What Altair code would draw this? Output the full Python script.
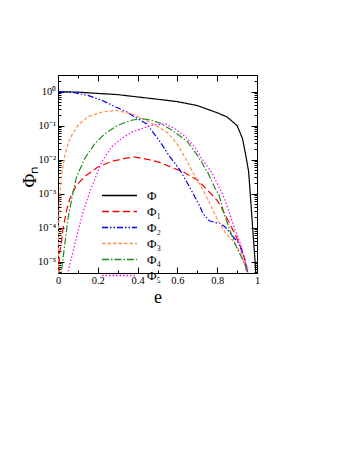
import altair as alt
import pandas as pd

series_names = ["Φ", "Φ₁", "Φ₂", "Φ₃", "Φ₄", "Φ₅"]
colors = ["#000000", "#ff0000", "#0000ff", "#ff9150", "#1e8c1e", "#ff00ff"]
dashes = [[1, 0], [7, 3.5], [6, 2, 1.5, 2, 1.5, 2], [3.5, 2], [7, 2, 1.5, 2], [1.5, 2]]

# Phi (total) — values read directly
e_phi = [0, 0.1, 0.2, 0.3, 0.4, 0.5, 0.6, 0.7, 0.8, 0.85, 0.9, 0.927, 0.944, 0.958, 0.97, 0.98, 0.99, 0.995]
v_phi = [1.0, 0.97, 0.89, 0.82, 0.70, 0.6, 0.51, 0.39, 0.24, 0.18, 0.10, 0.042, 0.013, 0.0044, 4.7e-4, 7e-5, 1.1e-5, 3.5e-6]

# Phi_1..Phi_5 — log10 of the values
e_phi1 = [0.003, 0.008, 0.017, 0.025, 0.042, 0.059, 0.093, 0.134, 0.2, 0.27, 0.35, 0.38, 0.41, 0.45, 0.51, 0.58, 0.63, 0.70, 0.75, 0.80, 0.82, 0.86, 0.89, 0.92, 0.94, 0.96]
lg_phi1 = [-5.7, -4.75, -4.45, -4.05, -3.52, -3.15, -2.75, -2.5, -2.22, -2.05, -1.95, -1.92, -1.95, -1.99, -2.08, -2.25, -2.36, -2.6, -2.89, -3.2, -3.4, -3.85, -4.2, -4.6, -4.95, -5.5]

e_phi2 = [0, 0.084, 0.15, 0.22, 0.29, 0.34, 0.38, 0.446, 0.51, 0.56, 0.61, 0.655, 0.69, 0.71, 0.73, 0.76, 0.79, 0.815, 0.84, 0.88, 0.91, 0.925, 0.94, 0.95, 0.96]
lg_phi2 = [0, -0.03, -0.11, -0.25, -0.45, -0.58, -0.72, -0.95, -1.45, -1.9, -2.28, -2.74, -3.12, -3.34, -3.6, -3.8, -3.85, -3.88, -3.98, -4.27, -4.47, -4.72, -5.01, -5.2, -5.5]

e_phi3 = [0.001, 0.003, 0.006, 0.01, 0.017, 0.034, 0.059, 0.10, 0.15, 0.22, 0.29, 0.37, 0.41, 0.48, 0.55, 0.60, 0.64, 0.68, 0.72, 0.76, 0.80, 0.84, 0.88, 0.92, 0.95, 0.96]
lg_phi3 = [-5.5, -4.1, -3.4, -3.0, -2.5, -1.87, -1.38, -0.99, -0.74, -0.6, -0.55, -0.65, -0.75, -0.96, -1.2, -1.55, -1.95, -2.4, -2.8, -3.25, -3.75, -4.15, -4.4, -4.75, -5.3, -5.6]

e_phi4 = [0.012, 0.017, 0.034, 0.05, 0.076, 0.093, 0.134, 0.185, 0.235, 0.30, 0.37, 0.42, 0.47, 0.51, 0.58, 0.65, 0.706, 0.756, 0.79, 0.81, 0.832, 0.865, 0.891, 0.916, 0.941, 0.955]
lg_phi4 = [-5.6, -5.3, -4.5, -3.74, -2.95, -2.51, -1.97, -1.53, -1.24, -0.99, -0.84, -0.79, -0.84, -0.92, -1.16, -1.47, -1.92, -2.42, -2.85, -3.05, -3.55, -4.1, -4.5, -4.8, -5.1, -5.5]

e_phi5 = [0.045, 0.05, 0.076, 0.10, 0.126, 0.16, 0.193, 0.219, 0.269, 0.319, 0.37, 0.42, 0.47, 0.51, 0.54, 0.59, 0.64, 0.69, 0.72, 0.77, 0.80, 0.824, 0.84, 0.865, 0.891, 0.916, 0.932, 0.95, 0.96]
lg_phi5 = [-5.8, -5.3, -4.7, -4.12, -3.54, -2.95, -2.45, -2.07, -1.63, -1.38, -1.19, -1.09, -0.99, -0.96, -0.95, -1.1, -1.33, -1.65, -1.95, -2.35, -2.7, -2.99, -3.2, -3.64, -4.08, -4.47, -4.81, -5.2, -5.6]

x_ticks = [0, 0.1, 0.2, 0.3, 0.4, 0.5, 0.6, 0.7, 0.8, 0.9, 1.0]
y_ticks = [m * 10.0 ** k for k in range(-6, 1) for m in range(1, 10) if 4.6e-6 <= m * 10.0 ** k <= 3.1]

rows = []
for e, v in zip(e_phi, v_phi):
    rows.append({"series": series_names[0], "e": e, "value": v})
for name, es, lgs in [(series_names[1], e_phi1, lg_phi1), (series_names[2], e_phi2, lg_phi2),
                      (series_names[3], e_phi3, lg_phi3), (series_names[4], e_phi4, lg_phi4),
                      (series_names[5], e_phi5, lg_phi5)]:
    for e, lg in zip(es, lgs):
        rows.append({"series": name, "e": e, "value": 10.0 ** lg})
df = pd.DataFrame(rows)

FONT = "Liberation Serif"
y_dec = "abs(log(datum.value)/LN10 - round(log(datum.value)/LN10)) < 0.01"
x_maj = "abs(datum.value*5 - round(datum.value*5)) < 0.01"
y_tick_expr = y_dec + " ? -6 : -3"
x_tick_expr = x_maj + " ? -6 : -3"
y_label_expr = (y_dec + " ? '10' + ['⁰','⁻¹','⁻²','⁻³','⁻⁴','⁻⁵','⁻⁶'][-round(log(datum.value)/LN10)] : ''")
x_label_expr = x_maj + " ? '' + datum.value : ''"

xscale = alt.Scale(domain=[0, 1], nice=False, zero=False)
yscale = alt.Scale(type="log", domain=[4.6e-6, 3.1], nice=False)

legend = alt.Legend(
    title=None, orient="none", legendX=55, legendY=114,
    symbolType="M-3.5,0H3.5", symbolSize=100, symbolStrokeWidth=1.3,
    labelFont=FONT, labelFontSize=13, labelOffset=21, labelColor="black",
)

lines = alt.Chart(df).mark_line(strokeWidth=1.2, clip=True).encode(
    x=alt.X("e:Q", scale=xscale, axis=alt.Axis(
        orient="bottom", values=x_ticks, labelExpr=x_label_expr,
        tickSize=alt.ExprRef(x_tick_expr), labelPadding=8, labelFlush=False,
        labelFontSize=10.5, title="e", titleFontSize=18, titleFontWeight="normal",
        titleBaseline="alphabetic", titleY=29)),
    y=alt.Y("value:Q", scale=yscale, axis=alt.Axis(
        orient="left", values=y_ticks, labelExpr=y_label_expr,
        tickSize=alt.ExprRef(y_tick_expr), labelPadding=8.3, labelFontSize=10.5,
        title="Φₙ", titleFontSize=19, titleFontWeight="normal",
        titleAngle=270, titleAlign="center", titleBaseline="alphabetic",
        titleX=-23, titleY=101)),
    color=alt.Color("series:N", scale=alt.Scale(domain=series_names, range=colors), legend=legend),
    strokeDash=alt.StrokeDash("series:N", scale=alt.Scale(domain=series_names, range=dashes), legend=legend),
    order="e:Q",
)

frame_axes = alt.Chart(df).mark_line(opacity=0, clip=True).encode(
    x=alt.X("e:Q", scale=xscale, axis=alt.Axis(
        orient="top", values=x_ticks, labels=False, title=None,
        tickSize=alt.ExprRef(x_tick_expr))),
    y=alt.Y("value:Q", scale=yscale, axis=alt.Axis(
        orient="right", values=y_ticks, labels=False, title=None,
        tickSize=alt.ExprRef(y_tick_expr))),
    detail="series:N",
)

chart = alt.layer(lines, frame_axes).resolve_axis(
    x="independent", y="independent"
).properties(
    width=199, height=198,
    autosize=alt.AutoSizeParams(type="none"),
    padding={"left": 50, "top": 67, "right": 92, "bottom": 181},
).configure_axis(
    grid=False, domain=False, tickColor="black", tickWidth=1,
    labelFont=FONT, titleFont=FONT, labelColor="black", titleColor="black",
).configure_view(stroke="black", strokeWidth=1)

chart.save("out.html", embed_options={"renderer": "svg", "actions": False})
